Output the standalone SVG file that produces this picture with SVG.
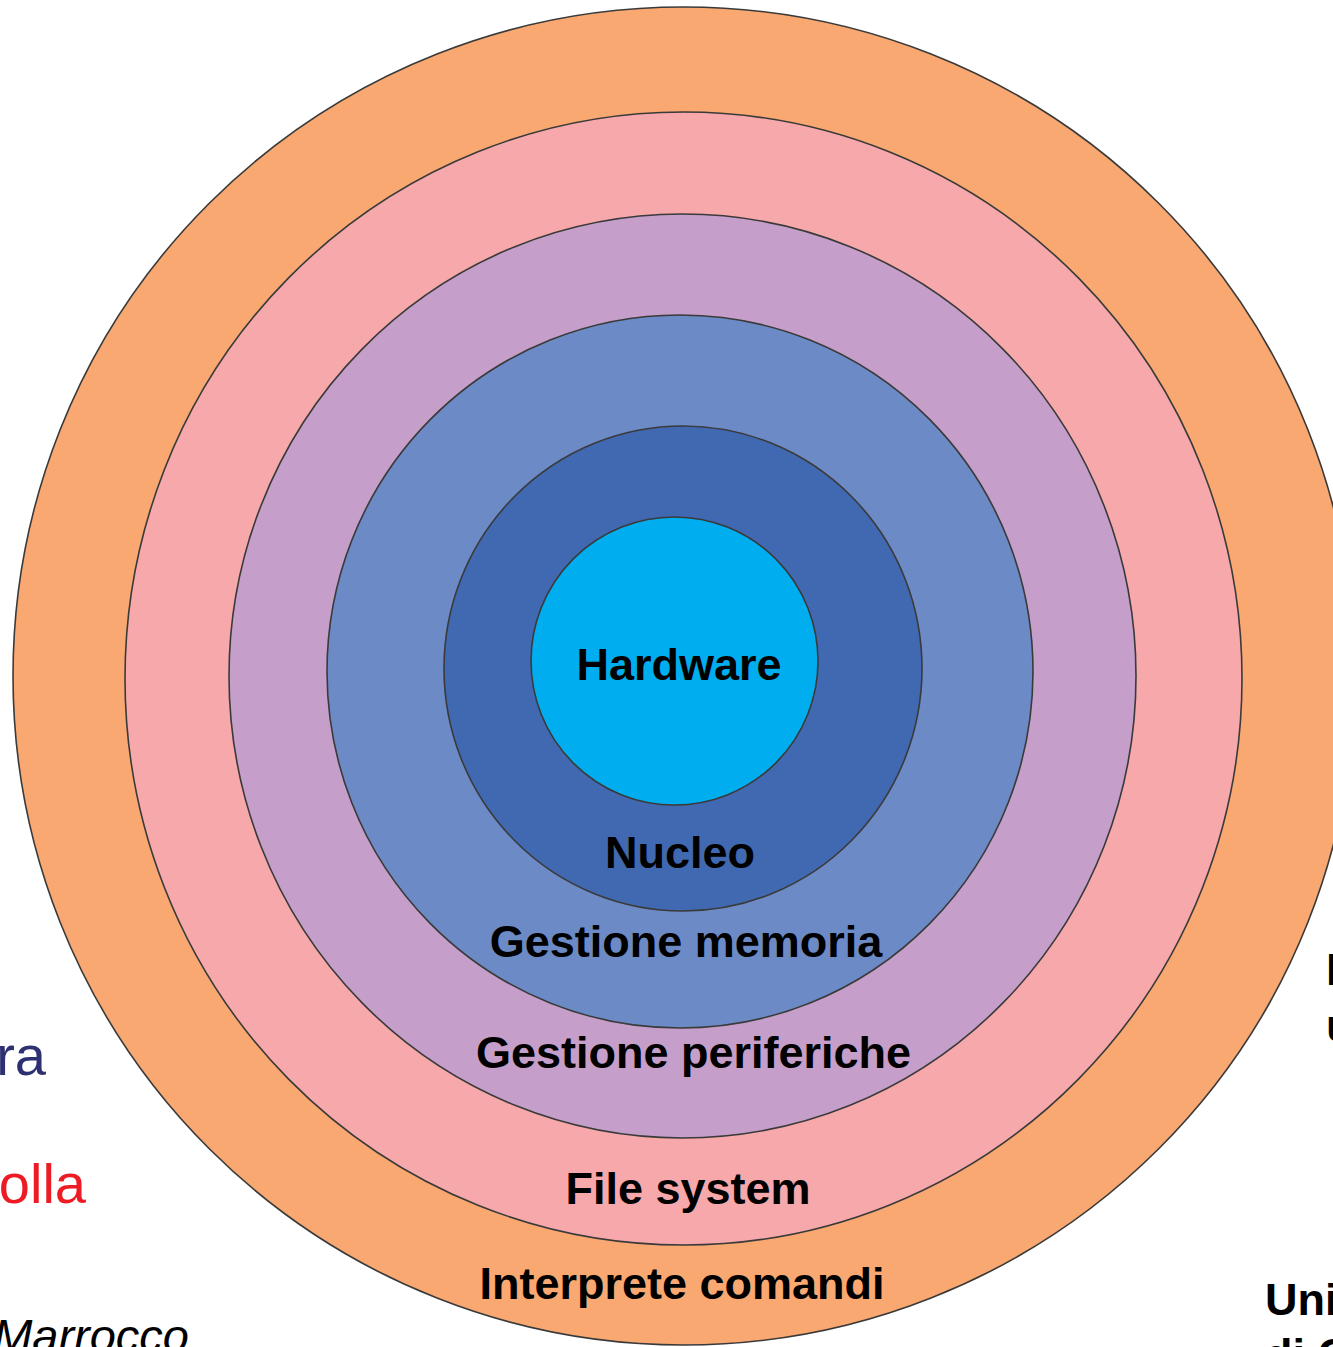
<svg xmlns="http://www.w3.org/2000/svg" width="1333" height="1347" viewBox="0 0 1333 1347">
  <style>
    .ring { stroke: #3a3a3a; stroke-width: 1.6; }
    .lbl { font-family: "Liberation Sans", Arial, sans-serif; font-weight: bold; font-size: 45px; fill: #000; text-anchor: middle; }
    .side { font-family: "Liberation Sans", Arial, sans-serif; font-size: 56px; }
    .author { font-family: "Liberation Sans", Arial, sans-serif; font-style: italic; font-size: 47px; fill: #000; text-anchor: end; }
    .sideb { font-family: "Liberation Sans", Arial, sans-serif; font-weight: bold; font-size: 45px; fill: #000; }
  </style>
  <rect width="1333" height="1347" fill="#ffffff"/>

  <!-- Side text fragments -->
  <g id="side-text">
    <text class="side" x="46" y="1075" text-anchor="end" fill="#2e3171">ra</text>
    <text class="side" x="86" y="1203" text-anchor="end" fill="#ed1c24">olla</text>
    <text class="author" x="189" y="1352">Marrocco</text>
    <text class="sideb" x="1326" y="985">I</text>
    <text class="sideb" x="1326" y="1041">u</text>
    <text class="sideb" x="1265" y="1315">Uni</text>
    <text class="sideb" x="1265" y="1370">di C</text>
  </g>

  <!-- Concentric layers, outermost first -->
  <g id="interprete-comandi">
    <ellipse class="ring" cx="684" cy="676" rx="671" ry="669" fill="#f8a870"/>
    <text class="lbl" x="682" y="1299">Interprete comandi</text>
  </g>
  <g id="file-system">
    <ellipse class="ring" cx="683.5" cy="678.5" rx="558.5" ry="566.5" fill="#f6a8ab"/>
    <text class="lbl" x="688" y="1204">File system</text>
  </g>
  <g id="gestione-periferiche">
    <ellipse class="ring" cx="682.5" cy="676" rx="453.5" ry="462" fill="#c59fc9"/>
    <text class="lbl" x="693.5" y="1068">Gestione periferiche</text>
  </g>
  <g id="gestione-memoria">
    <ellipse class="ring" cx="680" cy="671.5" rx="353" ry="356.5" fill="#6c8ac5"/>
    <text class="lbl" x="686" y="957">Gestione memoria</text>
  </g>
  <g id="nucleo">
    <ellipse class="ring" cx="683" cy="668.5" rx="239" ry="242.5" fill="#4169b1"/>
    <text class="lbl" x="680" y="868">Nucleo</text>
  </g>
  <g id="hardware">
    <ellipse class="ring" cx="674.5" cy="661" rx="143.5" ry="144" fill="#00aeef"/>
    <text class="lbl" x="679" y="680">Hardware</text>
  </g>

  <g id="connectors"/>
</svg>
